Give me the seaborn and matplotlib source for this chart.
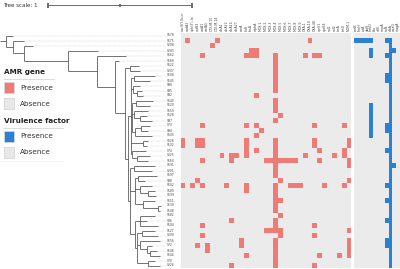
import matplotlib
matplotlib.use("Agg")
import matplotlib.pyplot as plt
import seaborn as sns
import numpy as np
import pandas as pd
from matplotlib.colors import ListedColormap
from matplotlib.patches import Rectangle
from matplotlib.lines import Line2D

# ---------------- data ----------------
# tree (branch lengths in tree-scale units)
C1 = "(S122:0.062,S207:0.069):0.035"
E1 = "(S108:0.146,S145:0.111):0.021"
E2 = "(S90:0.049,(S95:0.035,S92:0.042):0.028):0.014"
E4 = ("((S140:0.118,S120:0.097):0.028,(S150:0.097,(S128:0.049,S97:0.083):0.042):0.014,"
      "((S73:0.062,S94:0.049):0.042,S105:0.118):0.021):0.007")
E10 = "(S126:0.035,S132:0.028):0.083"
E11 = "(S74:0.097,(S225:0.090,S160:0.076):0.035):0.007"
F1 = "(S191:0.146,S201:0.125):0.028"
F2 = ("((S197:0.132,S98:0.049):0.021,(S102:0.083,(S189:0.049,S199:0.056):0.056):0.035,"
      "(S151:0.083,(S139:0.021,S148:0.014):0.104):0.056):0.035")
F10 = ("((S127:0.090,S200:0.111):0.035,(S156:0.139,(S72:0.035,(S146:0.049,S144:0.069):0.021):0.049):0.021,"
       "(S70:0.049,S224:0.083):0.076):0.014")
F8 = "((S182:0.104,S86:0.049,S194:0.125):0.035," + F10 + "):0.035"
C3 = "(" + ",".join([E1, E2, E4, E10, E11]) + "):0.021"
C4 = "(" + ",".join([F1, F2, F8]) + "):0.014"
N6 = "(" + C1 + ",(" + C3 + "," + C4 + "):0.021):0.069"
TREE = ("(S178:0.049,(S175:0.076,(S208:0.062,(S205:0.208,(S162:0.201,(S168:0.028,"
        + N6 + "):0.125):0.201):0.306):0.076):0.049):0.042;")
TREE_SCALE_UNITS = 1.0

AMR_GENES = ["aac(6')-Ib-cr", "aadA2", "aph(3')-Ia", "catB3", "catA1", "cmlA1", "CTX-M-15",
             "CTX-M-14", "dfrA1", "dfrA12", "dfrA14", "dfrA27", "ereA", "floR", "fosA", "mphA",
             "MOX-1", "MOX-2", "MOX-3", "MOX-4", "MOX-5", "MOX-6", "MOX-7", "MOX-8", "MOX-9",
             "OXA-1", "OXA-10", "OXA-48", "qnrS1", "qnrB4", "sul1", "sul2", "tetA", "tetD", "NDM-1"]
VF_GENES = ["entB", "fimH", "iutA", "ybtS", "mrkD", "kfu", "allS", "rmpA", "iroN", "clbA", "wcaG", "magA"]

# present AMR genes (column indices) per tree row, top to bottom
AMR_ROWS = [
    [], [1, 7, 26], [6], [14, 15], [4, 13, 14, 15, 19, 25, 27, 28],
    [19], [19], [19], [19], [19], [19], [19], [15], [19], [19], [19], [20], [19],
    [4, 13, 15, 27, 33], [16], [15],
    [0, 3, 4, 13, 19, 27, 34], [0, 3, 4, 13, 19, 27, 34], [13, 15, 19, 28, 33],
    [8, 10, 11, 13, 19, 25, 31, 33], [4, 10, 17, 18, 19, 20, 21, 22, 23, 28, 34],
    [19, 34], [19], [19], [3, 20, 34], [0, 2, 4, 9, 13, 19, 22, 23, 24, 29, 33],
    [13, 19], [19], [19, 20], [19], [19], [20], [10, 19], [4, 19, 27],
    [17, 18, 19, 20, 34], [4, 20, 27], [12, 19, 34], [3, 5, 12, 19, 34], [5, 19, 34],
    [13, 19, 28, 32, 34], [19], [10, 19, 27],
]
# present virulence factors per tree row
VF_ROWS = [
    [], [0, 1, 2, 3, 4, 8, 9], [9], [4, 9, 10], [4, 8, 9], [9], [9], [9], [8, 9], [8, 9],
    [9], [9], [9], [9], [4, 9], [4, 9], [4, 9], [4, 9], [4, 8, 9], [4, 8, 9], [4, 9],
    [9], [9], [8, 9], [9], [9], [9, 10], [9], [9], [9], [8, 9], [9], [9], [8, 9], [9],
    [9], [9], [8, 9], [9], [9], [9], [8, 9], [8, 9], [9], [9], [9], [9],
]

RED = "#f07a75"
GREY = "#ebebeb"
BLUE = "#2b80cf"

# ---------------- newick parsing ----------------
def parse(s):
    s = s.strip().rstrip(";")
    pos = [0]

    def node():
        children = []
        if s[pos[0]] == "(":
            pos[0] += 1
            while True:
                children.append(node())
                if s[pos[0]] == ",":
                    pos[0] += 1
                    continue
                if s[pos[0]] == ")":
                    pos[0] += 1
                    break
        st = pos[0]
        while pos[0] < len(s) and s[pos[0]] not in ":,()":
            pos[0] += 1
        name = s[st:pos[0]]
        length = 0.0
        if pos[0] < len(s) and s[pos[0]] == ":":
            pos[0] += 1
            st = pos[0]
            while pos[0] < len(s) and s[pos[0]] not in ",()":
                pos[0] += 1
            length = float(s[st:pos[0]])
        return {"name": name, "len": length, "children": children}

    return node()

root = parse(TREE)
tips = []

def layout(n, x0):
    n["x"] = x0 + n["len"]
    n["x0"] = x0
    if not n["children"]:
        n["y"] = len(tips) + 0.5
        tips.append(n)
    else:
        for c in n["children"]:
            layout(c, n["x"])
        n["y"] = (n["children"][0]["y"] + n["children"][-1]["y"]) / 2

layout(root, 0.0)
NROW = len(tips)
assert NROW == len(AMR_ROWS) == len(VF_ROWS) == 47

amr = np.zeros((NROW, len(AMR_GENES)))
for r, cols in enumerate(AMR_ROWS):
    amr[r, cols] = 1
vf = np.zeros((NROW, len(VF_GENES)))
for r, cols in enumerate(VF_ROWS):
    vf[r, cols] = 1
names = [t["name"] for t in tips]
amr_df = pd.DataFrame(amr, index=names, columns=AMR_GENES)
vf_df = pd.DataFrame(vf, index=names, columns=VF_GENES)

# ---------------- figure ----------------
W, H = 400, 269
fig = plt.figure(figsize=(4.0, 2.69), dpi=100)
top_px, bot_px = 33, 268
fb = (H - bot_px) / H
fh = (bot_px - top_px) / H
SCALE = 144.0  # px per tree unit

def fx(x):
    return x / W

def fy(y):
    return 1 - y / H

# scale bar drawn with the same px-per-unit as the tree
fig.text(fx(3), fy(5.5), "Tree scale: 1", fontsize=4, va="center", ha="left", color="#333333")
x0s = 48
x1s = x0s + TREE_SCALE_UNITS * SCALE
BAR = "#707070"
fig.patches.append(Rectangle((fx(x0s), fy(6.2)), (x1s - x0s) / W, 1.2 / H, facecolor=BAR,
                             edgecolor="none", transform=fig.transFigure, figure=fig))
for xt, h in ((x0s, 4.5), ((x0s + x1s) / 2, 2.5), (x1s, 4.5)):
    fig.patches.append(Rectangle((fx(xt - 0.6), fy(5.6 + h / 2)), 1.2 / W, h / H, facecolor=BAR,
                                 edgecolor="none", transform=fig.transFigure, figure=fig))

# tree
axt = fig.add_axes([0, fb, 180 / W, fh])
axt.set_xlim(0, 180)
axt.set_ylim(NROW, 0)
axt.axis("off")
TREE_COLOR = "#4d4d4d"

def draw(n):
    xs, xe = n["x0"] * SCALE, n["x"] * SCALE
    axt.plot([xs, xe], [n["y"], n["y"]], color=TREE_COLOR, lw=0.55, solid_capstyle="butt")
    if n["children"]:
        axt.plot([xe, xe], [n["children"][0]["y"], n["children"][-1]["y"]],
                 color=TREE_COLOR, lw=0.55, solid_capstyle="butt")
        for c in n["children"]:
            draw(c)

draw(root)
for t in tips:
    axt.plot([t["x"] * SCALE, 166], [t["y"], t["y"]], color="#b5b5b5", lw=0.3,
             linestyle=(0, (1, 1)))
    axt.text(167, t["y"], t["name"], fontsize=2.2, va="center", ha="left", color="#444444")

# AMR heatmap
axa = fig.add_axes([180.5 / W, fb, 171 / W, fh])
sns.heatmap(amr_df, ax=axa, cmap=ListedColormap([GREY, RED]), vmin=0, vmax=1,
            cbar=False, xticklabels=True, yticklabels=False, linewidths=0)
axa.xaxis.tick_top()
axa.set_xticklabels(AMR_GENES, rotation=90, fontsize=2.3, color="#444444")
axa.tick_params(length=0, pad=1.5)
axa.set_xlabel("")
axa.set_ylabel("")

# virulence heatmap
axv = fig.add_axes([354 / W, fb, 46 / W, fh])
sns.heatmap(vf_df, ax=axv, cmap=ListedColormap([GREY, BLUE]), vmin=0, vmax=1,
            cbar=False, xticklabels=True, yticklabels=False, linewidths=0)
axv.xaxis.tick_top()
axv.set_xticklabels(VF_GENES, rotation=90, fontsize=2.3, color="#444444")
axv.tick_params(length=0, pad=1.5)
axv.set_xlabel("")
axv.set_ylabel("")

# legend (pixel coordinates, origin top-left)
def legend_block(y, title, color, line_end):
    fig.text(fx(4), fy(y), title, fontsize=5.2, fontweight="bold", va="center", ha="left",
             color="#222222")
    fig.add_artist(Line2D([fx(3), fx(line_end)], [fy(y + 6.5), fy(y + 6.5)], color="#cfcfcf", lw=0.5))
    fig.add_artist(Rectangle((fx(4), fy(y + 21)), 10 / W, 11 / H, facecolor=color,
                             edgecolor="#d8d8d8", lw=0.5))
    fig.text(fx(20), fy(y + 15.5), "Presence", fontsize=5.2, va="center", ha="left", color="#333333")
    fig.add_artist(Rectangle((fx(4), fy(y + 37)), 10 / W, 11 / H, facecolor="#e8e8e8",
                             edgecolor="#d0d0d0", lw=0.5))
    fig.text(fx(20), fy(y + 31.5), "Absence", fontsize=5.2, va="center", ha="left", color="#333333")

legend_block(72, "AMR gene", RED, 54)
legend_block(121, "Virulence factor", BLUE, 63)
fig.add_artist(Line2D([0, fx(63)], [fy(161), fy(161)], color="#eeeeee", lw=0.4))

fig.savefig("out.png", dpi=100)
